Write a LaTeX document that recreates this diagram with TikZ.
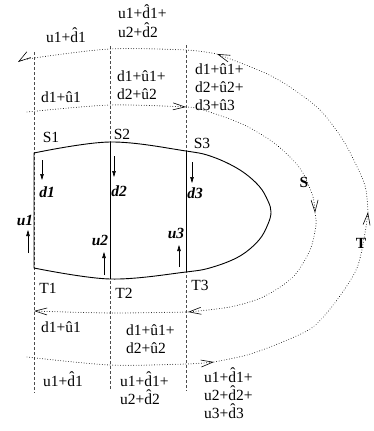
\documentclass[tikz,border=0pt]{standalone}
\usepackage{fontspec}
\setmainfont{Liberation Serif}
\usetikzlibrary{arrows.meta}
\newcommand{\hd}{\^{d}}
\newcommand{\hu}{\^{u}}
\begin{document}
\begin{tikzpicture}[x=1pt,y=-1pt,
  txt/.style={font=\fontsize{15.5}{18}\selectfont, inner sep=0pt, align=left, anchor=base west},
  lbl/.style={font=\fontsize{15.5}{18}\selectfont\bfseries\itshape, inner sep=0pt},
  sub/.style={font=\fontsize{15.5}{18}\selectfont, inner sep=0pt},
  big/.style={font=\fontsize{15.5}{18}\selectfont\bfseries, inner sep=0pt},
  gridline/.style={draw=black!70, line width=0.8pt, dash pattern=on 3pt off 2pt},
  flow/.style={line width=0.9pt, dash pattern=on 0.01pt off 2.6pt, line cap=round},
  tip/.style={-{Straight Barb[length=12pt,width=7pt,line width=0.6pt,line cap=butt]}},
  small/.style={line width=0.6pt, -{Triangle[length=6pt,width=3.5pt]}},
  body/.style={line width=0.9pt}
  ]
\useasboundingbox (0,0) rectangle (373,431);
% dashed section lines
\draw[gridline] (34,52) -- (34,393);
\draw[gridline] (110,46) -- (110,390);
\draw[gridline] (186,45) -- (186,391);
% body
\coordinate (A1) at (34,153);
\coordinate (A2) at (110,142);
\coordinate (A3) at (186,151);
\coordinate (B1) at (34,268);
\coordinate (B2) at (110,279);
\coordinate (B3) at (186,272);
\draw[body] plot[smooth, tension=0.6] coordinates {(34,153) (110,142) (186,151) (213,157) (240,170) (259,186) (268,201) (271,212) (268,224) (259,240) (240,256) (213,267) (186,272) (110,279) (34,268)} -- cycle;
\draw[body] (A2) -- (B2);
\draw[body] (A3) -- (B3);
% small arrows
\draw[small] (42,160) -- (42,180);
\draw[small] (114,156) -- (114,177);
\draw[small] (192,162) -- (192,183);
\draw[small] (28,253) -- (28,230);
\draw[small] (104,275) -- (104,252);
\draw[small] (179,267) -- (179,245);
% T loop
\draw[flow,tip] plot[smooth] coordinates {(27,357) (110,365) (186,364) (214,362)};
\draw[flow,tip] plot[smooth] coordinates {(214,362) (247,355) (280,343) (313,327) (337,300) (357,268) (365,233) (368,212)};
\draw[flow,tip] plot[smooth] coordinates {(368,212) (366,190) (360,173) (343,140) (320,110) (290,87) (263,72) (217,54)};
\draw[flow,tip] plot[smooth] coordinates {(217,54) (186,50) (110,49) (34,58) (18,62)};
% S loop
\draw[flow,tip] plot[smooth] coordinates {(27,112) (110,105) (186,107)};
\draw[flow,tip] plot[smooth] coordinates {(186,107) (200,109) (240,123) (270,140) (290,157) (303,173) (313,197) (315,213)};
\draw[flow,tip] plot[smooth] coordinates {(315,213) (316,225) (310,250) (293,277) (263,297) (230,307) (188,312)};
\draw[flow,tip] plot[smooth] coordinates {(188,312) (110,313) (34,311)};
% labels
\node[sub] (S1) at (51,137) {S1};
\node[sub] (S2) at (122,134) {S2};
\node[sub] (S3) at (202,143) {S3};
\node[sub] (T1) at (48,288) {T1};
\node[sub] (T2) at (124,293) {T2};
\node[sub] (T3) at (200,285) {T3};
\node[lbl] (d1) at (47,192) {d1};
\node[lbl] (d2) at (119,191) {d2};
\node[lbl] (d3) at (195,193) {d3};
\node[lbl] (u1) at (25,220) {u1};
\node[lbl] (u2) at (100,240) {u2};
\node[lbl] (u3) at (176,233) {u3};
\node[big] (S) at (304,182) {S};
\node[big] (T) at (361,243) {T};
% sums (multi-line: anchor at baseline of last line)
\node[txt] (t1) at (46,42) {u1+\hd1};
\node[txt] (t2) at (118,37) {u1+\hd1+\\u2+\hd2};
\node[txt] (t3) at (41,102) {d1+\hu1};
\node[txt] (t4) at (117,99) {d1+\hu1+\\d2+\hu2};
\node[txt] (t5) at (195,110) {d1+\hu1+\\d2+\hu2+\\d3+\hu3};
\node[txt] (b1) at (41,332) {d1+\hu1};
\node[txt] (b2) at (126,353) {d1+\hu1+\\d2+\hu2};
\node[txt] (b3) at (43,386) {u1+\hd1};
\node[txt] (b4) at (120,404) {u1+\hd1+\\u2+\hd2};
\node[txt] (b5) at (204,418) {u1+\hd1+\\u2+\hd2+\\u3+\hd3};
\end{tikzpicture}
\end{document}
